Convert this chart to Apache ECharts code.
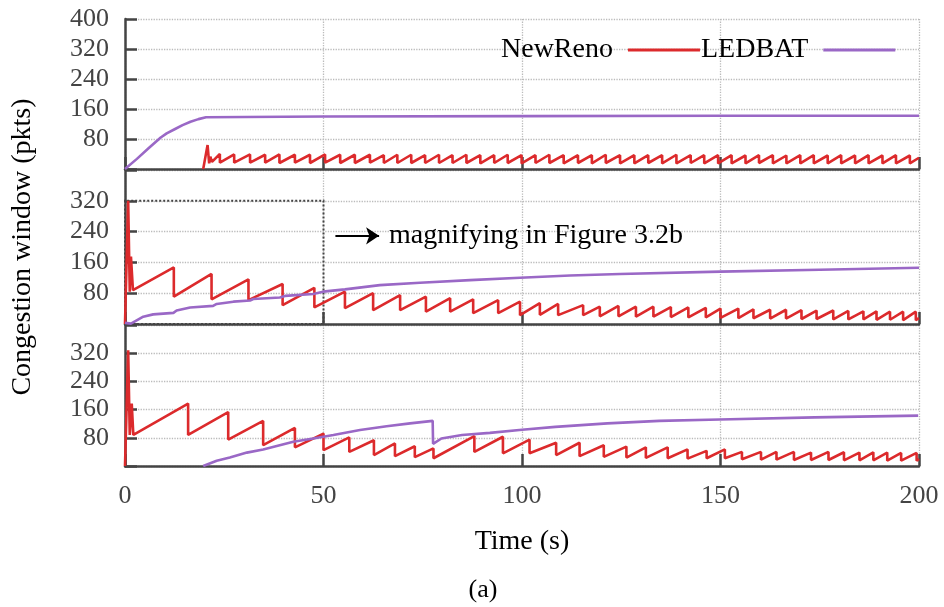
<!DOCTYPE html>
<html><head><meta charset="utf-8">
<script src="https://cdn.jsdelivr.net/npm/echarts@6/dist/echarts.min.js"></script>
<style>html,body{margin:0;padding:0;background:#fff}#c{width:944px;height:607px}</style>
</head><body><div id="c"></div>
<script>
const FONT = 'Liberation Serif';
const seriesNames = ['NewReno', 'LEDBAT'];
const xTitle = 'Time (s)';
const yTitle = 'Congestion window (pkts)';
const noteText = 'magnifying in Figure 3.2b';
const captionText = '(a)';

// ---- Panel 1 (top) ----
const p1RedStart = [[19.7,0],[20.8,64],[21.2,15],[21.5,33],[21.9,19]];
const p1RedDrops = [23.9,27.5,31.5,35.3,38.9,42.8,46.6,50.4,54.2,57.9,61.7,65.2,68.6,72.1,75.6,79.1,82.5,86.0,89.5,93.0,96.4,99.9,103.4,106.9,110.5,114.1,117.6,121.1,124.7,128.3,131.8,135.3,138.9,142.5,145.9,149.4,152.8,156.3,159.7,163.2,166.6,170.1,173.5,177.0,180.4,183.9,187.3,190.8,194.2,197.7];
const p1RedPeaks = [40,39,39,38,39,38,38,39,38,38,38,37,38,38,37,38,37,38,37,37,38,37,37,38,37,37,37,38,37,37,37,37,38,37,37,37,37,36,37,37,36,37,37,36,37,36,37,36,37,36];
const p1RedTroughs = [17,17,17,17,16,17,16,17,16,16,17,16,16,16,16,16,16,16,15,16,16,15,16,16,15,16,15,16,15,15,16,15,15,16,15,15,15,15,16,15,15,15,15,15,15,15,15,15,15,15];
const p1RedEnd = [200,30];
const p1Purple = [[0,0],[3,27],[6,56],[9,84],[10.5,95],[12.5,106],[14.5,117],[16.5,126],[18.5,133],[20.4,138],[50,140],[100,141],[150,142],[200,142]];

// ---- Panel 2 (middle) ----
const p2RedStart = [[0,0],[0.8,320],[1.2,84],[1.5,175],[2.0,88]];
const p2RedDrops = [12.3,21.8,31.1,39.7,47.7,55.4,62.5,69.3,75.8,81.9,87.7,94.0,99.5,104.5,109.1,115.4,119.6,124.3,128.7,133.1,137.5,141.9,146.3,150.0,154.5,158.3,162.5,166.5,170.4,174.2,178.4,182.2,186.0,189.3,192.7,196.0,199.2];
const p2RedPeaks = [147,130,116,104,94,84,80,75,71,67,64,62,58,54,52,49,45,47,45,45,44,43,42,40,40,38,37,37,36,35,35,34,33,33,32,32,32];
const p2RedTroughs = [71,64,62,49,43,41,36,36,32,32,28,28,23,24,23,23,20,20,19,19,18,17,17,16,15,15,14,14,13,13,12,12,12,11,11,10,10];
const p2RedEnd = [200,15];
const p2Purple = [[0,3],[1.5,1],[4.6,19],[7.1,25],[12.2,29],[13.0,35],[16.4,43],[22.2,47],[23.1,52],[27.3,58],[31.5,61],[32.3,65],[39.0,69],[40.3,73],[47.4,78],[49.9,84],[55.4,90],[64.2,101],[74.3,107],[86.9,114],[99.5,120],[112.1,126],[124.7,130],[150,136],[175,141],[200,146]];
const boxCorners = [[0,0],[50,320]];
const arrowFromTo = [[53,229],[64,229]];

// ---- Panel 3 (bottom) ----
const p3RedStart = [[0,0],[0.8,328],[1.2,88],[1.7,177],[2.1,88]];
const p3RedDrops = [15.9,26.0,34.8,42.8,50.0,56.5,62.7,68.0,73.0,77.7,88.0,95.2,101.9,108.6,114.5,120.6,126.3,131.2,136.7,141.7,146.5,151.1,155.4,160.2,164.1,168.5,172.8,177.2,181.1,185.0,188.5,192.0,195.5,199.4];
const p3RedPeaks = [177,153,128,108,92,81,73,64,56,50,85,83,75,66,66,59,55,53,53,47,43,47,40,40,40,40,38,40,39,38,39,38,37,37];
const p3RedTroughs = [88,75,59,53,45,40,31,28,25,22,40,36,36,31,28,26,24,23,22,21,22,22,19,18,18,17,17,17,16,16,16,15,15,15];
const p3RedEnd = [200,20];
const p3Purple = [[19.7,0],[23.1,15],[26.4,24],[30.7,38],[34.8,47],[42.4,69],[47.4,78],[52.5,88],[59.2,102],[65.9,113],[71.8,121],[77.5,128],[77.6,63],[79.7,78],[84.9,88],[91.9,94],[100,103],[108.4,111],[121.5,121],[134.6,128],[149.8,132],[173.7,138],[199.8,143]];

const RED = '#dc2a2c';
const PURPLE = '#9a68c6';
const AXIS = '#444';

function sawtooth(start, drops, peaks, troughs, end) {
  const d = start.slice();
  for (let i = 0; i < drops.length; i++) {
    d.push([drops[i], peaks[i]]);
    d.push([drops[i], troughs[i]]);
  }
  d.push(end);
  return d;
}

const grids = [
  {left:125, right:25, top:19, height:150},
  {left:125, right:25, top:170, height:154},
  {left:125, right:25, top:325, height:141}
];

function xAx(i) {
  const a = {
    type:'value', gridIndex:i, min:0, max:200, interval:50,
    axisLine:{show:true, onZero:false, lineStyle:{color:AXIS, width:2.5}},
    axisTick:{show:true, inside:true, length:12, lineStyle:{color:AXIS, width:2.5}},
    splitLine:{show:true, lineStyle:{color:'#bbb', type:'dotted', width:1.3}},
    axisLabel:{show:i===2, margin:17, color:AXIS, fontFamily:FONT, fontSize:26}
  };
  if (i === 2) {
    a.name = xTitle; a.nameLocation = 'middle'; a.nameGap = 62;
    a.nameTextStyle = {color:'#000', fontFamily:FONT, fontSize:28};
  }
  return a;
}
function yAx(i) {
  const a = {
    type:'value', gridIndex:i, min:0, max:400, interval:80,
    axisLine:{show:true, onZero:false, lineStyle:{color:AXIS, width:2.5}},
    axisTick:{show:true, inside:true, length:12, lineStyle:{color:AXIS, width:2.5}},
    splitLine:{show:true, lineStyle:{color:'#bbb', type:'dotted', width:1.3}},
    axisLabel:{margin:16, color:AXIS, fontFamily:FONT, fontSize:26,
      formatter: v => (v === 0 || (i > 0 && v === 400)) ? '' : String(v)}
  };
  if (i === 1) {
    a.name = yTitle; a.nameLocation = 'middle'; a.nameGap = 88;
    a.nameTextStyle = {color:'#000', fontFamily:FONT, fontSize:28};
  }
  return a;
}

function line(name, color, data, i, extra) {
  return Object.assign({
    name, type:'line', xAxisIndex:i, yAxisIndex:i, data,
    showSymbol:false, symbol:'none', clip:true, z:3,
    lineStyle:{color, width:2.6}, itemStyle:{color}
  }, extra || {});
}

const option = {
  animation:false,
  backgroundColor:'#fff',
  grid:grids,
  xAxis:[xAx(0), xAx(1), xAx(2)],
  yAxis:[yAx(0), yAx(1), yAx(2)],
  legend:{
    data:seriesNames, left:496, top:31, align:'right', icon:'rect',
    itemWidth:72, itemHeight:3, itemGap:1,
    textStyle:{color:'#000', fontFamily:FONT, fontSize:28, padding:[0,10,0,0]}
  },
  series:[
    line(seriesNames[0], RED, sawtooth(p1RedStart, p1RedDrops, p1RedPeaks, p1RedTroughs, p1RedEnd), 0),
    line(seriesNames[1], PURPLE, p1Purple, 0),
    line(seriesNames[0], RED, sawtooth(p2RedStart, p2RedDrops, p2RedPeaks, p2RedTroughs, p2RedEnd), 1, {
      markArea:{silent:true, label:{show:false},
        itemStyle:{color:'rgba(0,0,0,0)', borderColor:AXIS, borderWidth:2, borderType:'dotted'},
        data:[[{coord:boxCorners[0]},{coord:boxCorners[1]}]]},
      markLine:{silent:true, symbol:['none','arrow'], symbolSize:13,
        lineStyle:{color:'#000', width:2.2, type:'solid'},
        label:{show:true, position:'end', distance:10, formatter:noteText, color:'#000', fontFamily:FONT, fontSize:28},
        data:[[{coord:arrowFromTo[0]},{coord:arrowFromTo[1]}]]}
    }),
    line(seriesNames[1], PURPLE, p2Purple, 1),
    line(seriesNames[0], RED, sawtooth(p3RedStart, p3RedDrops, p3RedPeaks, p3RedTroughs, p3RedEnd), 2),
    line(seriesNames[1], PURPLE, p3Purple, 2)
  ],
  graphic:[{type:'text', x:483, y:590, style:{text:captionText, fill:'#000', font:'26px "Liberation Serif"', align:'center', verticalAlign:'middle'}}]
};

const chart = echarts.init(document.getElementById('c'), null, {renderer:'canvas'});
chart.setOption(option);
</script>
</body></html>
